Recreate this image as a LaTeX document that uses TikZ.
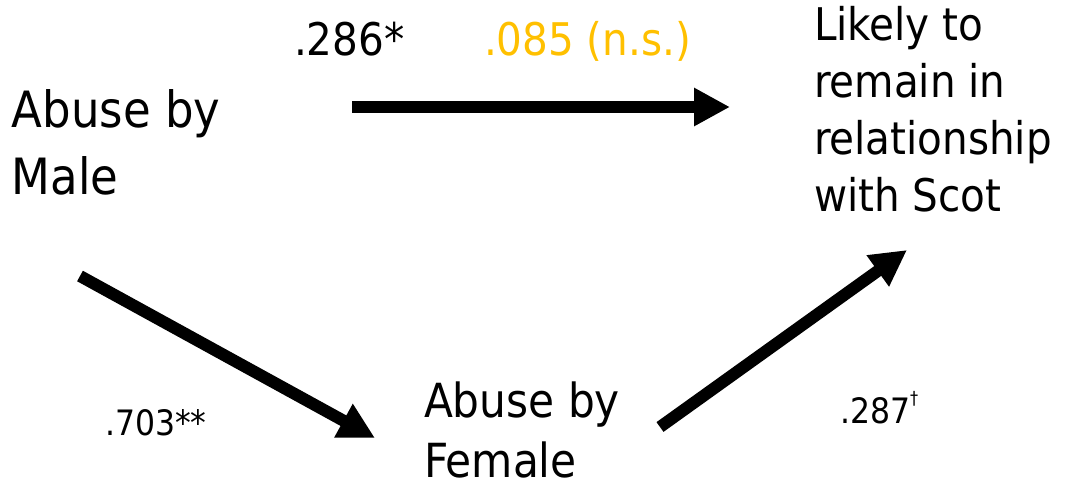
\documentclass[tikz,border=0pt]{standalone}
\usepackage{fontspec}
\setmainfont{DejaVu Sans Condensed}
\usetikzlibrary{arrows.meta}
\definecolor{nsorange}{RGB}{255,192,0}
\tikzset{
  lbl/.style={inner sep=0pt, outer sep=0pt, align=left, anchor=north west},
  coef/.style={inner sep=0pt, outer sep=0pt, anchor=base west},
  path arrow/.style={line width=12pt, -{Triangle[length=36pt,width=36pt]}}
}
\begin{document}
\begin{tikzpicture}[x=1pt,y=-1pt]
\useasboundingbox (0,0) rectangle (1065,488);
\node[lbl, font=\fontsize{50}{66.7}\selectfont] (male) at (12,90) {Abuse by\\Male};
\node[lbl, font=\fontsize{45}{57}\selectfont] (likely) at (814,6) {Likely to\\remain in\\relationship\\with Scot};
\node[lbl, font=\fontsize{47}{60}\selectfont] (female) at (424,382) {Abuse by\\Female};
\node[coef, font=\fontsize{45}{54}\selectfont] (c286) at (294,55) {.286*};
\node[coef, font=\fontsize{45}{54}\selectfont, text=nsorange] (c085) at (484,55) {.085 (n.s.)};
\node[coef, font=\fontsize{35}{42}\selectfont] (c703) at (105,435) {.703**};
\node[coef, font=\fontsize{35}{42}\selectfont] (c287) at (840,423) {.287\raisebox{0.95ex}{\fontsize{18}{18}\selectfont †}};
\coordinate (a1s) at (352,107);
\coordinate (a1e) at (730,107);
\coordinate (a2s) at (80,276);
\coordinate (a2e) at (375,438);
\coordinate (a3s) at (660,427);
\coordinate (a3e) at (907,250);
\draw[path arrow] (a1s) -- (a1e);
\draw[path arrow] (a2s) -- (a2e);
\draw[path arrow] (a3s) -- (a3e);
\end{tikzpicture}
\end{document}
